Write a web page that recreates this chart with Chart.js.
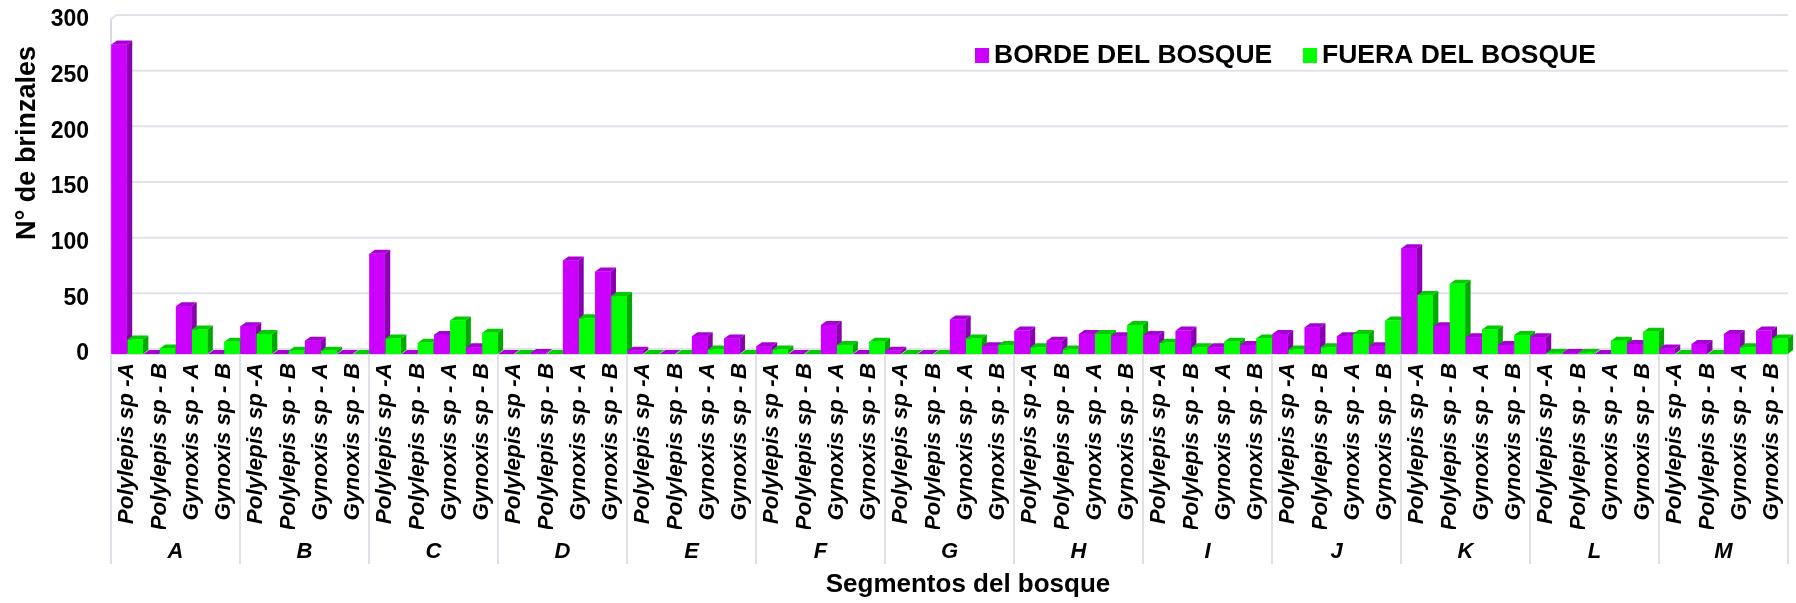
<!DOCTYPE html>
<html>
<head>
<meta charset="utf-8">
<script src="https://cdn.jsdelivr.net/npm/chart.js@4.4.1/dist/chart.umd.min.js"></script>
<style>
  html, body { margin: 0; padding: 0; background: #fff; }
  #wrap { width: 1796px; height: 603px; }
</style>
</head>
<body>
<div id="wrap"><canvas id="chart"></canvas></div>
<script>
// Datos del gráfico
const segmentos = ['A', 'B', 'C', 'D', 'E', 'F', 'G', 'H', 'I', 'J', 'K', 'L', 'M'];
const especies = ['Polylepis sp -A', 'Polylepis sp - B', 'Gynoxis sp - A', 'Gynoxis sp - B'];

// BORDE DEL BOSQUE (4 valores por segmento)
const borde = [
    278, 0, 43, 0,    // A
    25, 0, 12, 0,     // B
    90, 0, 17, 6,     // C
    0, 1, 84, 74,     // D
    3, 0, 16, 14,     // E
    7, 0, 26, 0,      // F
    3, 0, 31, 7,      // G
    21, 12, 18, 16,   // H
    17, 21, 6, 8,     // I
    18, 24, 16, 7,    // J
    95, 25, 15, 8,    // K
    15, 1, 0, 9,      // L
    5, 9, 18, 21      // M
];

// FUERA DEL BOSQUE
const fuera = [
    13, 5, 22, 11,    // A
    18, 3, 3, 0,      // B
    14, 10, 30, 19,   // C
    0, 0, 32, 52,     // D
    0, 0, 4, 0,       // E
    4, 0, 8, 11,      // F
    0, 0, 14, 8,      // G
    6, 4, 18, 26,     // H
    10, 6, 11, 14,    // I
    4, 6, 18, 30,     // J
    53, 63, 22, 17,   // K
    1, 1, 12, 20,     // L
    0, 0, 6, 14       // M
];

const yTicks = [0, 50, 100, 150, 200, 250, 300];
const tituloY = 'N° de brinzales';
const tituloX = 'Segmentos del bosque';

// Etiquetas: cada segmento repite las cuatro especies
const etiquetas = [];
segmentos.forEach(() => especies.forEach(e => etiquetas.push(e)));

const FONT = "'Liberation Sans', Arial, sans-serif";

// Colores de cara frontal, lateral y superior (efecto 3D)
const tonos = [
    { front: '#cc00ff', side: '#8a00ae', top: '#a900d6' },
    { front: '#00ff00', side: '#00a800', top: '#00cc00' }
];
const DX = 5.5, DY = 4;

// Líneas de la cuadrícula sobre la pared del fondo
const paredFondo = {
    id: 'paredFondo',
    beforeDatasetsDraw(chart) {
        const ctx = chart.ctx;
        const y = chart.scales.y;
        const area = chart.chartArea;
        ctx.save();
        ctx.strokeStyle = '#dfe3e9';
        ctx.lineWidth = 2;
        yTicks.forEach(v => {
            const py = y.getPixelForValue(v) - DY - 1;
            ctx.beginPath();
            ctx.moveTo(area.left - 1, py + DY + 1);
            ctx.lineTo(area.left + DX, py);
            ctx.lineTo(area.right, py);
            ctx.stroke();
        });
        ctx.restore();
    }
};

// Dibuja las barras en 3D, categoría por categoría
const barras3d = {
    id: 'barras3d',
    afterDatasetsDraw(chart) {
        const ctx = chart.ctx;
        const metas = chart.data.datasets.map((d, i) => chart.getDatasetMeta(i));
        const n = chart.data.labels.length;
        ctx.save();
        for (let i = 0; i < n; i++) {
            metas.forEach((meta, di) => {
                const el = meta.data[i];
                if (!el) return;
                const p = el.getProps(['x', 'y', 'base', 'width'], true);
                const c = tonos[di];
                const l = p.x - p.width / 2, r = p.x + p.width / 2;
                const t = Math.min(p.y, p.base), b = p.base;
                // lado
                ctx.fillStyle = c.side;
                ctx.beginPath();
                ctx.moveTo(r, t);
                ctx.lineTo(r + DX, t - DY);
                ctx.lineTo(r + DX, b - DY);
                ctx.lineTo(r, b);
                ctx.closePath();
                ctx.fill();
                // tapa
                ctx.fillStyle = c.top;
                ctx.beginPath();
                ctx.moveTo(l, t);
                ctx.lineTo(l + DX, t - DY);
                ctx.lineTo(r + DX, t - DY);
                ctx.lineTo(r, t);
                ctx.closePath();
                ctx.fill();
                // frente
                ctx.fillStyle = c.front;
                ctx.fillRect(l, t, r - l, b - t);
            });
        }
        ctx.restore();
    }
};

// Separadores entre segmentos, leyenda y títulos de los ejes
const extras = {
    id: 'extras',
    afterDraw(chart) {
        const ctx = chart.ctx;
        const x = chart.scales.x;
        const seg = chart.scales.seg;
        const area = chart.chartArea;
        const paso = x.getPixelForValue(1) - x.getPixelForValue(0);
        ctx.save();
        ctx.strokeStyle = '#dde1e8';
        ctx.lineWidth = 2;
        for (let k = 0; k <= segmentos.length; k++) {
            const px = x.getPixelForValue(4 * k) - paso / 2;
            ctx.beginPath();
            ctx.moveTo(px, area.bottom);
            ctx.lineTo(px, seg.bottom - 2);
            ctx.stroke();
        }

        // leyenda
        const posX = [975, 1303];
        const cy = 55;
        ctx.font = 'bold 26.5px ' + FONT;
        ctx.textBaseline = 'middle';
        ctx.textAlign = 'left';
        chart.data.datasets.forEach((ds, i) => {
            ctx.fillStyle = ds.backgroundColor;
            ctx.fillRect(posX[i], cy - 7, 14, 15);
            ctx.fillStyle = '#000';
            ctx.fillText(ds.label, posX[i] + 19, cy + 1);
        });

        // título eje X
        ctx.font = 'bold 26px ' + FONT;
        ctx.textAlign = 'center';
        ctx.fillText(tituloX, 968, 585);

        // título eje Y
        ctx.translate(28, 143);
        ctx.rotate(-Math.PI / 2);
        ctx.font = 'bold 27px ' + FONT;
        ctx.fillText(tituloY, 0, 0);
        ctx.restore();
    }
};

new Chart(document.getElementById('chart'), {
    type: 'bar',
    data: {
        labels: etiquetas,
        datasets: [
            { label: 'BORDE DEL BOSQUE', data: borde, backgroundColor: tonos[0].front, xAxisID: 'x' },
            { label: 'FUERA DEL BOSQUE', data: fuera, backgroundColor: tonos[1].front, xAxisID: 'x' }
        ]
    },
    options: {
        responsive: true,
        maintainAspectRatio: false,
        animation: false,
        layout: { padding: { left: 51, right: 8, top: 20, bottom: 37 } },
        datasets: { bar: { categoryPercentage: 1.0, barPercentage: 0.95 } },
        plugins: {
            legend: { display: false },
            tooltip: { enabled: false }
        },
        scales: {
            x: {
                weight: 0,
                grid: { display: false, drawTicks: false },
                border: { display: true, color: '#d6dae1', width: 2 },
                afterFit(s) {
                    s.height = 175;
                    s.paddingLeft = 0;
                    s.paddingRight = 0;
                },
                ticks: {
                    autoSkip: false,
                    minRotation: 90,
                    maxRotation: 90,
                    padding: 9,
                    color: '#000',
                    font: { family: FONT, size: 22.5, weight: 'bold', style: 'italic' }
                }
            },
            seg: {
                type: 'category',
                labels: segmentos,
                position: 'bottom',
                weight: 1,
                offset: true,
                grid: { display: false, drawTicks: false },
                border: { display: false },
                afterFit(s) {
                    s.height = 37;
                    s.paddingLeft = 0;
                    s.paddingRight = 0;
                },
                ticks: {
                    padding: 10,
                    color: '#000',
                    font: { family: FONT, size: 22, weight: 'bold', style: 'italic' }
                }
            },
            y: {
                min: 0,
                max: 300,
                afterBuildTicks(scale) {
                    scale.ticks = yTicks.map(v => ({ value: v }));
                },
                afterFit(s) {
                    s.width = 60;
                    s.paddingTop = 0;
                    s.paddingBottom = 0;
                },
                grid: { display: false, drawTicks: false },
                border: { display: true, color: '#d6dae1', width: 2 },
                ticks: {
                    padding: 22,
                    color: '#000',
                    font: { family: FONT, size: 23, weight: 'bold' }
                }
            }
        }
    },
    plugins: [paredFondo, barras3d, extras]
});
</script>
</body>
</html>
